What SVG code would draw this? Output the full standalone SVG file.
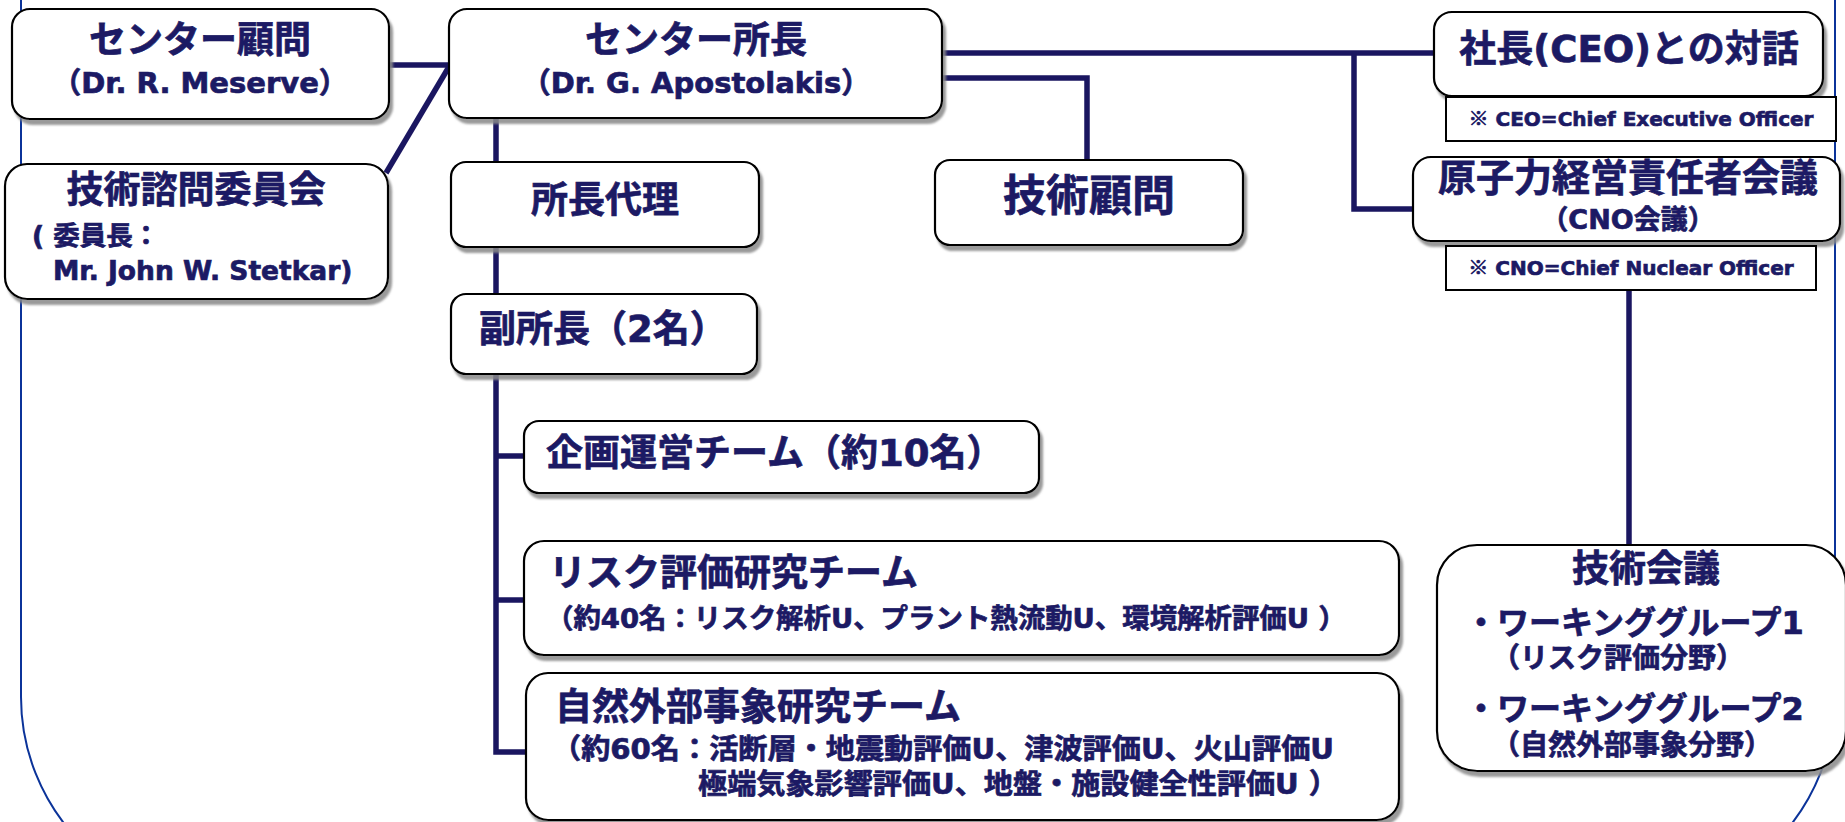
<svg xmlns="http://www.w3.org/2000/svg" width="1845" height="822" viewBox="0 0 1845 822">
<style>
.bx{fill:#fff;stroke:#000;stroke-width:2.2;filter:url(#sh)}
.nt{fill:#fff;stroke:#000;stroke-width:2}
.t{font-family:"DejaVu Sans","Noto Sans CJK JP",sans-serif;font-weight:bold;fill:#1c1a64;stroke:#1c1a64;stroke-width:0.7;paint-order:stroke}
.j{font-family:"Noto Sans CJK JP",sans-serif}
.c{text-anchor:middle}
.cn{fill:none;stroke:#1a1660;stroke-width:5.5;stroke-linecap:butt;stroke-linejoin:miter}
</style>
<defs>
<filter id="sh" x="-5%" y="-10%" width="115%" height="130%">
<feDropShadow dx="3" dy="5" stdDeviation="1.2" flood-color="#888" flood-opacity="0.85"/>
</filter>
</defs>
<rect width="1845" height="822" fill="#fff"/>
<path d="M21,-5 V697 A207,207 0 0 0 228,904 H1628 A207,207 0 0 0 1835,697 V-5" fill="none" stroke="#0b3399" stroke-width="2"/>
<g id="connectors">
<path class="cn" d="M389,65 H450"/>
<path class="cn" d="M450,65 L386,173"/>
<path class="cn" d="M496,118 V162"/>
<path class="cn" d="M496,247 V294"/>
<path class="cn" d="M496,374 V752 H526"/>
<path class="cn" d="M496,456 H524"/>
<path class="cn" d="M496,600 H524"/>
<path class="cn" d="M942,53 H1434"/>
<path class="cn" d="M1354,53 V209 H1413"/>
<path class="cn" d="M942,78 H1087 V160"/>
<path class="cn" d="M1629,290 V545"/>
</g>
<g id="advisor">
<rect class="bx" x="12" y="9" width="377" height="110" rx="18"/>
<text class="t c" x="200" y="53" font-size="37">センター顧問</text>
<text class="t c" x="200" y="93" font-size="29">（Dr. R. Meserve）</text>
</g>
<g id="committee">
<rect class="bx" x="5" y="164" width="383" height="135" rx="22"/>
<text class="t c" x="196" y="203" font-size="37">技術諮問委員会</text>
<text class="t" x="32" y="245" font-size="26.5">( 委員長：</text>
<text class="t" x="53" y="280" font-size="26.5">Mr. John W. Stetkar)</text>
</g>
<g id="director">
<rect class="bx" x="449" y="9" width="493" height="109" rx="18"/>
<text class="t c" x="696" y="53" font-size="37">センター所長</text>
<text class="t c" x="696" y="93" font-size="29">（Dr. G. Apostolakis）</text>
</g>
<g id="deputy">
<rect class="bx" x="451" y="162" width="308" height="85" rx="15"/>
<text class="t c" x="605" y="213" font-size="37">所長代理</text>
</g>
<g id="tech-advisor">
<rect class="bx" x="935" y="160" width="308" height="85" rx="15"/>
<text class="t c" x="1089" y="211" font-size="43">技術顧問</text>
</g>
<g id="ceo">
<rect class="bx" x="1434" y="12" width="389" height="84" rx="18"/>
<text class="t c" x="1629" y="62" font-size="37">社長(CEO)との対話</text>
</g>
<g id="ceo-note">
<rect class="nt" x="1446" y="97" width="390" height="44"/>
<text class="t c" x="1641" y="126" font-size="20" stroke-width="0.3"><tspan class="j">※</tspan> CEO=Chief Executive Officer</text>
</g>
<g id="cno">
<rect class="bx" x="1413" y="157" width="427" height="84" rx="18"/>
<text class="t c" x="1628" y="191" font-size="38">原子力経営責任者会議</text>
<text class="t c" x="1628" y="229" font-size="27">（CNO会議）</text>
</g>
<g id="cno-note">
<rect class="nt" x="1446" y="246" width="370" height="44"/>
<text class="t c" x="1631" y="275" font-size="20" stroke-width="0.3"><tspan class="j">※</tspan> CNO=Chief Nuclear Officer</text>
</g>
<g id="vice">
<rect class="bx" x="451" y="294" width="306" height="80" rx="15"/>
<text class="t" x="479" y="342" font-size="37">副所長（2名）</text>
</g>
<g id="planning">
<rect class="bx" x="524" y="421" width="515" height="72" rx="15"/>
<text class="t" x="546" y="466" font-size="37">企画運営チーム（約10名）</text>
</g>
<g id="risk">
<rect class="bx" x="524" y="541" width="875" height="114" rx="20"/>
<text class="t" x="549" y="586" font-size="37">リスク評価研究チーム</text>
<text class="t" x="546" y="628" font-size="27" textLength="800" lengthAdjust="spacingAndGlyphs">（約40名：リスク解析U、プラント熱流動U、環境解析評価U ）</text>
</g>
<g id="nature">
<rect class="bx" x="526" y="673" width="873" height="147" rx="22"/>
<text class="t" x="555" y="720" font-size="37">自然外部事象研究チーム</text>
<text class="t" x="552" y="759" font-size="28" textLength="782" lengthAdjust="spacingAndGlyphs">（約60名：活断層・地震動評価U、津波評価U、火山評価U</text>
<text class="t" x="698" y="794" font-size="28" textLength="640" lengthAdjust="spacingAndGlyphs">極端気象影響評価U、地盤・施設健全性評価U ）</text>
</g>
<g id="tech-meeting">
<rect class="bx" x="1437" y="545" width="409" height="226" rx="40"/>
<text class="t c" x="1646" y="582" font-size="37">技術会議</text>
<text class="t" x="1465" y="634" font-size="32">・ワーキンググループ1</text>
<text class="t" x="1492" y="668" font-size="28">（リスク評価分野）</text>
<text class="t" x="1465" y="720" font-size="32">・ワーキンググループ2</text>
<text class="t" x="1492" y="755" font-size="28">（自然外部事象分野）</text>
</g>
</svg>
